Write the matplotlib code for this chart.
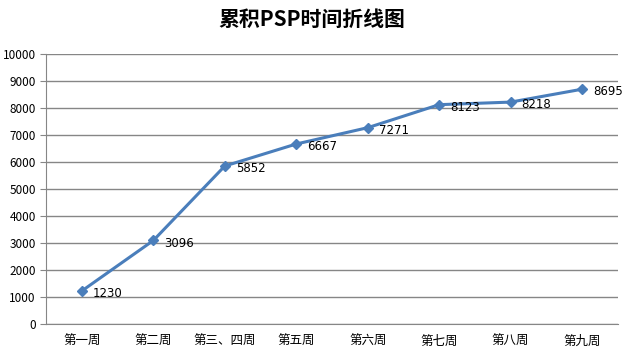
import numpy as np
import matplotlib
matplotlib.use('Agg')
import matplotlib.pyplot as plt

plt.rcParams['font.family'] = ['Noto Sans CJK SC', 'DejaVu Sans']

weeks = ['第一周', '第二周', '第三、四周', '第五周', '第六周', '第七周', '第八周', '第九周']
minutes = [1230, 3096, 5852, 6667, 7271, 8123, 8218, 8695]

fig = plt.figure(figsize=(6.24, 3.55), dpi=100)
ax = fig.add_axes([0.074, 0.087, 0.916, 0.761])

x = np.arange(len(weeks))
ax.plot(x, minutes, color='#4A7EBB', linewidth=2.2, marker='D',
        markersize=5.5, zorder=3)
for xi, v in zip(x, minutes):
    ax.annotate(str(v), (xi, v), xytext=(8, -2), textcoords='offset points',
                ha='left', va='center', fontsize=8.5, color='black',
                family='DejaVu Sans')

ax.set_xlim(-0.5, len(weeks) - 0.5)
ax.set_ylim(0, 10000)
ax.set_yticks(np.arange(0, 10001, 1000))
ax.set_xticks(x)
ax.set_xticklabels(weeks, fontsize=9)
ax.tick_params(axis='y', labelsize=8.5, length=4, color='#868686')
ax.tick_params(axis='x', length=0, pad=8)
ax.yaxis.grid(True, color='#868686', linewidth=1.0)
ax.set_axisbelow(True)
for s in ['top', 'right']:
    ax.spines[s].set_visible(False)
for s in ['left', 'bottom']:
    ax.spines[s].set_color('#868686')

fig.suptitle('累积PSP时间折线图', fontsize=15, fontweight='bold', y=0.975)

fig.savefig('out.png', dpi=100)
